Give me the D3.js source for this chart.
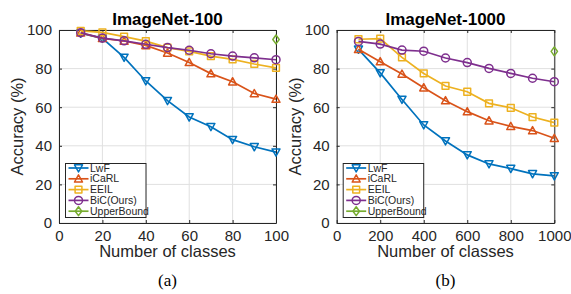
<!DOCTYPE html>
<html>
<head>
<meta charset="utf-8">
<script src="https://cdn.jsdelivr.net/npm/d3@7"></script>
<style>
  body { margin: 0; background: #fff; }
  text { font-family: "Liberation Sans", Arial, sans-serif; }
</style>
</head>
<body>
<div id="chart"></div>
<script>
// Data
var seriesNames = ["LwF", "iCaRL", "EEIL", "BiC(Ours)", "UpperBound"];
var seriesColors = ["#0072BD", "#D95319", "#EDB120", "#7E2F8E", "#77AC30"];
var seriesShapes = ["down", "up", "square", "circle", "diamond"];

var classes100 = [10, 20, 30, 40, 50, 60, 70, 80, 90, 100];
var lwf100   = [98.3, 95.7, 85.8, 73.6, 63.4, 54.9, 49.9, 43.2, 39.5, 36.7];
var icarl100 = [98.5, 95.7, 94.3, 92.0, 88.1, 83.2, 77.4, 73.2, 67.1, 64.2];
var eeil100  = [99.5, 98.8, 96.6, 94.2, 90.9, 88.9, 86.5, 84.8, 82.4, 80.4];
var bic100   = [98.6, 95.8, 94.4, 92.6, 90.9, 89.5, 87.7, 86.5, 85.6, 84.6];
var upper100 = [95.1];
var upperX100 = [100];

var classes1000 = [100, 200, 300, 400, 500, 600, 700, 800, 900, 1000];
var lwf1000   = [90.0, 77.8, 64.0, 50.8, 42.5, 35.3, 30.6, 28.2, 25.5, 24.4];
var icarl1000 = [90.0, 83.6, 77.2, 70.1, 63.4, 57.7, 53.0, 50.1, 47.9, 43.9];
var eeil1000  = [95.2, 95.5, 85.8, 77.5, 71.0, 68.0, 62.0, 59.7, 54.9, 52.0];
var bic1000   = [94.1, 92.7, 89.6, 89.0, 85.5, 83.1, 80.1, 77.5, 75.0, 73.2];
var upper1000 = [88.9];
var upperX1000 = [1000];

var xTicks100 = [0, 20, 40, 60, 80, 100];
var xTicks1000 = [0, 200, 400, 600, 800, 1000];
var yTicks = [0, 20, 40, 60, 80, 100];

var svgWidth = 571;
var svgHeight = 294;

var svg = d3.select("#chart")
  .append("svg")
  .attr("width", svgWidth)
  .attr("height", svgHeight);

var axisColor = "#262626";
var gridColor = "#e0e0e0";

function drawMarker(g, shape, color, x, y) {
  var s = 4;
  if (shape === "circle") {
    g.append("circle").attr("cx", x).attr("cy", y).attr("r", s)
      .attr("fill", "none").attr("stroke", color).attr("stroke-width", 1.5);
  } else {
    var pts;
    if (shape === "down") pts = [[x - s, y - s * 0.8], [x + s, y - s * 0.8], [x, y + s]];
    else if (shape === "up") pts = [[x - s, y + s * 0.8], [x + s, y + s * 0.8], [x, y - s]];
    else if (shape === "square") pts = [[x - s * 0.85, y - s * 0.85], [x + s * 0.85, y - s * 0.85], [x + s * 0.85, y + s * 0.85], [x - s * 0.85, y + s * 0.85]];
    else pts = [[x, y - s * 1.1], [x + s * 0.8, y], [x, y + s * 1.1], [x - s * 0.8, y]];
    g.append("polygon").attr("points", pts.map(function(p) { return p.join(","); }).join(" "))
      .attr("fill", "none").attr("stroke", color).attr("stroke-width", 1.5)
      .attr("stroke-linejoin", "round");
  }
}

function drawPanel(opts) {
  var x = d3.scaleLinear().domain(opts.xDomain).range([opts.left, opts.right]);
  var y = d3.scaleLinear().domain([0, 100]).range([223, 30]);
  var g = svg.append("g");

  // grid
  g.selectAll(".vgrid").data(opts.xTicks).enter().append("line")
    .attr("x1", d => x(d)).attr("x2", d => x(d))
    .attr("y1", y(0)).attr("y2", y(100))
    .attr("stroke", gridColor).attr("stroke-width", 1);
  g.selectAll(".hgrid").data(yTicks).enter().append("line")
    .attr("x1", x.range()[0]).attr("x2", x.range()[1])
    .attr("y1", d => y(d)).attr("y2", d => y(d))
    .attr("stroke", gridColor).attr("stroke-width", 1);

  // axes
  var fmt = d3.format("d");
  var bottomAxis = d3.axisBottom(x).tickValues(opts.xTicks).tickFormat(fmt).tickSizeInner(-3).tickSizeOuter(0).tickPadding(7);
  var leftAxis = d3.axisLeft(y).tickValues(yTicks).tickFormat(fmt).tickSizeInner(-3).tickSizeOuter(0).tickPadding(7);
  var topAxis = d3.axisTop(x).tickValues(opts.xTicks).tickSizeInner(-3).tickSizeOuter(0).tickFormat("");
  var rightAxis = d3.axisRight(y).tickValues(yTicks).tickSizeInner(-3).tickSizeOuter(0).tickFormat("");

  var ax = [
    g.append("g").attr("transform", `translate(0, ${y(0)})`).call(bottomAxis),
    g.append("g").attr("transform", `translate(${x.range()[0]}, 0)`).call(leftAxis),
    g.append("g").attr("transform", `translate(0, ${y(100)})`).call(topAxis),
    g.append("g").attr("transform", `translate(${x.range()[1]}, 0)`).call(rightAxis)
  ];
  ax.forEach(function(a) {
    a.select(".domain").attr("stroke", axisColor).attr("stroke-width", 1);
    a.selectAll(".tick line").attr("stroke", axisColor);
    a.selectAll(".tick text").attr("fill", axisColor)
      .style("font-family", "'Liberation Sans', Arial, sans-serif")
      .style("font-size", "15px");
  });

  // series
  var lineGen = d3.line().x(d => x(d[0])).y(d => y(d[1]));
  opts.series.forEach(function(s, i) {
    var pts = s.xs.map(function(v, j) { return [v, s.ys[j]]; });
    if (pts.length > 1) {
      g.append("path").datum(pts).attr("d", lineGen)
        .attr("fill", "none").attr("stroke", seriesColors[i]).attr("stroke-width", 1.7);
    }
    pts.forEach(function(p) {
      drawMarker(g, seriesShapes[i], seriesColors[i], x(p[0]), y(p[1]));
    });
  });

  // title
  var cx = (x.range()[0] + x.range()[1]) / 2;
  g.append("text").attr("x", cx).attr("y", 25).attr("text-anchor", "middle")
    .style("font-size", "17px").style("font-weight", "bold").attr("fill", "#000")
    .text(opts.title);

  // axis labels
  g.append("text").attr("x", cx).attr("y", 257).attr("text-anchor", "middle")
    .style("font-size", "16.5px").attr("fill", axisColor).text("Number of classes");
  g.append("text")
    .attr("transform", `translate(${x.range()[0] - 36}, ${(y(0) + y(100)) / 2}) rotate(-90)`)
    .attr("text-anchor", "middle")
    .style("font-size", "16.5px").attr("fill", axisColor).text("Accuracy (%)");

  // caption
  g.append("text").attr("x", cx).attr("y", 286).attr("text-anchor", "middle")
    .style("font-family", "'Liberation Serif', 'Times New Roman', serif")
    .style("font-size", "17px").attr("fill", "#000").text(opts.caption);

  // legend
  var lx = x.range()[0] + 6.5, ly = 163.5;
  var lg = g.append("g");
  lg.append("rect").attr("x", lx).attr("y", ly).attr("width", 80.5).attr("height", 54)
    .attr("fill", "#fff").attr("stroke", axisColor).attr("stroke-width", 1);
  seriesNames.forEach(function(name, i) {
    var yy = ly + 4.5 + i * 10.8;
    lg.append("line").attr("x1", lx + 3).attr("x2", lx + 23).attr("y1", yy).attr("y2", yy)
      .attr("stroke", seriesColors[i]).attr("stroke-width", 1.7);
    drawMarker(lg, seriesShapes[i], seriesColors[i], lx + 13, yy);
    lg.append("text").attr("x", lx + 24.5).attr("y", yy + 3.6)
      .style("font-size", "10.5px").attr("fill", axisColor).text(name);
  });
}

drawPanel({
  left: 59, right: 276, xDomain: [0, 100], xTicks: xTicks100,
  title: "ImageNet-100", caption: "(a)",
  series: [
    { xs: classes100, ys: lwf100 },
    { xs: classes100, ys: icarl100 },
    { xs: classes100, ys: eeil100 },
    { xs: classes100, ys: bic100 },
    { xs: upperX100, ys: upper100 }
  ]
});

drawPanel({
  left: 336.7, right: 554.3, xDomain: [0, 1000], xTicks: xTicks1000,
  title: "ImageNet-1000", caption: "(b)",
  series: [
    { xs: classes1000, ys: lwf1000 },
    { xs: classes1000, ys: icarl1000 },
    { xs: classes1000, ys: eeil1000 },
    { xs: classes1000, ys: bic1000 },
    { xs: upperX1000, ys: upper1000 }
  ]
});
</script>
</body>
</html>
